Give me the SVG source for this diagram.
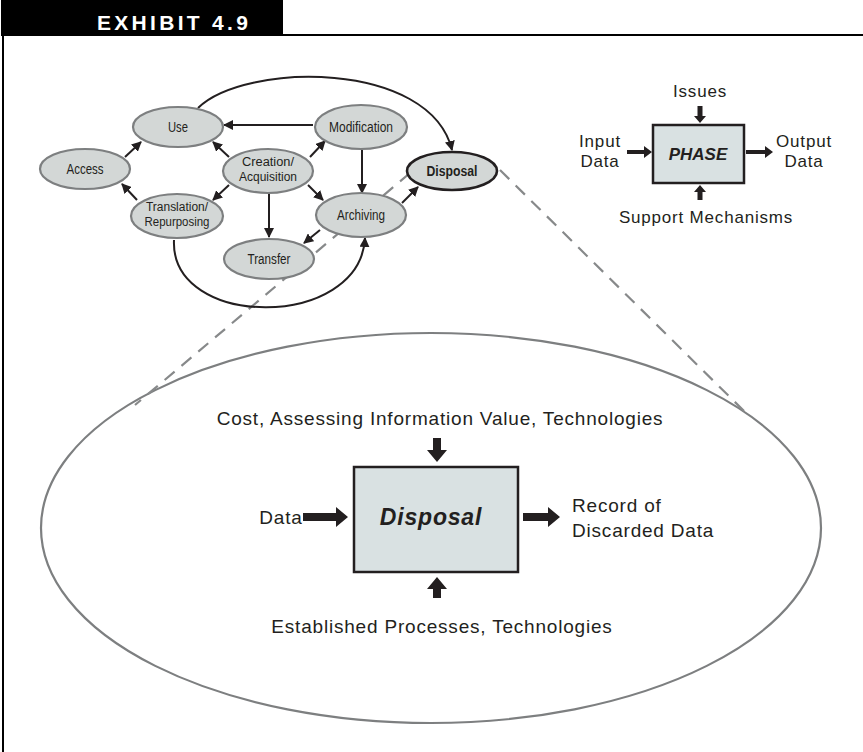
<svg xmlns="http://www.w3.org/2000/svg" width="863" height="752" viewBox="0 0 863 752">
<defs>
<marker id="ah" viewBox="0 0 10 10" refX="9" refY="5" markerWidth="10" markerHeight="10" markerUnits="userSpaceOnUse" orient="auto">
<path d="M0,0 L10,5 L0,10 Z" fill="#231f20"/>
</marker>
<style>
.node ellipse{fill:#d3d7d6;stroke:#7d7f80;stroke-width:2.2}
.nl{font-family:"Liberation Sans",sans-serif;font-size:14px;fill:#231f20;text-anchor:middle}
.nl2{font-size:12.5px}
.edge{fill:none;stroke:#231f20;stroke-width:2;marker-end:url(#ah)}
.dash{fill:none;stroke:#87898a;stroke-width:2.2;stroke-dasharray:13,9}
.lbl{font-family:"Liberation Sans",sans-serif;fill:#231f20}
.big{font-size:19px;letter-spacing:0.8px}
.leg{font-size:17px;letter-spacing:0.8px}
.box{fill:#d9e1e2;stroke:#231f20;stroke-width:2.5}
.fat{fill:#231f20}
</style>
</defs>
<rect width="863" height="752" fill="#ffffff"/>
<g id="frame">
<rect x="1" y="0" width="282" height="36" fill="#000000"/>
<text x="97" y="30" font-family="Liberation Sans,sans-serif" font-weight="bold" font-size="21" letter-spacing="3.3" fill="#ffffff">EXHIBIT 4.9</text>
<line x1="282" y1="35" x2="863" y2="35" stroke="#000" stroke-width="2"/>
<line x1="3" y1="35" x2="3" y2="752" stroke="#000" stroke-width="2"/>
</g>
<g id="zoom-ellipse">
<ellipse cx="431" cy="528" rx="390" ry="195" fill="none" stroke="#7d7f80" stroke-width="2.2"/>
<path class="dash" d="M410,173 L135,405"/>
<path class="dash" d="M500,170 L745,412"/>
</g>
<g id="connectors">
<path class="edge" d="M125,157 L141,142"/>
<path class="edge" d="M137,200 L122,184"/>
<path class="edge" d="M229,157 L213,142"/>
<path class="edge" d="M229,185 L213,200"/>
<path class="edge" d="M313,125 L224,125"/>
<path class="edge" d="M310,157 L325,141"/>
<path class="edge" d="M308,185 L323,200"/>
<path class="edge" d="M269,193 L269,237"/>
<path class="edge" d="M362,150 L362,193"/>
<path class="edge" d="M320,230 L304,243"/>
<path class="edge" d="M402,203 L418,187"/>
<path class="edge" d="M198,108 C245,62 430,60 452,150"/>
<path class="edge" d="M174,240 C170,330 360,330 365,238"/>
</g>
<g id="node-use" class="node"><ellipse cx="178" cy="127" rx="45" ry="20"/><text class="nl" x="178" y="132" textLength="20" lengthAdjust="spacingAndGlyphs">Use</text></g>
<g id="node-access" class="node"><ellipse cx="85" cy="169" rx="45" ry="20"/><text class="nl" x="85" y="174" textLength="37" lengthAdjust="spacingAndGlyphs">Access</text></g>
<g id="node-creation" class="node"><ellipse cx="268" cy="171" rx="45" ry="22"/><text class="nl nl2" x="268" y="166" textLength="52" lengthAdjust="spacingAndGlyphs">Creation/</text><text class="nl nl2" x="268" y="181" textLength="58" lengthAdjust="spacingAndGlyphs">Acquisition</text></g>
<g id="node-modification" class="node"><ellipse cx="361" cy="127" rx="46" ry="22"/><text class="nl" x="361" y="132" textLength="64" lengthAdjust="spacingAndGlyphs">Modification</text></g>
<g id="node-translation" class="node"><ellipse cx="177" cy="216" rx="46" ry="22"/><text class="nl nl2" x="177" y="211" textLength="62" lengthAdjust="spacingAndGlyphs">Translation/</text><text class="nl nl2" x="177" y="226" textLength="65" lengthAdjust="spacingAndGlyphs">Repurposing</text></g>
<g id="node-archiving" class="node"><ellipse cx="361" cy="215" rx="45" ry="22"/><text class="nl" x="361" y="220" textLength="48" lengthAdjust="spacingAndGlyphs">Archiving</text></g>
<g id="node-transfer" class="node"><ellipse cx="269" cy="259" rx="45" ry="20"/><text class="nl" x="269" y="264" textLength="43" lengthAdjust="spacingAndGlyphs">Transfer</text></g>
<g id="node-disposal" class="node"><ellipse cx="452" cy="171" rx="45" ry="19" style="stroke:#231f20;stroke-width:2.6"/><text class="nl" x="452" y="176" font-weight="bold" textLength="51" lengthAdjust="spacingAndGlyphs">Disposal</text></g>
<g id="legend">
<rect class="box" x="653" y="125" width="91" height="58"/>
<text class="lbl" x="698" y="160" font-size="17" font-weight="bold" font-style="italic" text-anchor="middle">PHASE</text>
<text class="lbl leg" x="700" y="97" text-anchor="middle">Issues</text>
<path class="fat" d="M697.5,106 H702.5 V116 H706 L700,123 L694,116 H697.5 Z"/>
<text class="lbl leg" x="600" y="147" text-anchor="middle">Input</text>
<text class="lbl leg" x="600" y="167" text-anchor="middle">Data</text>
<path class="fat" d="M627,150 H644 V146 L652,152 L644,158 V154 H627 Z"/>
<path class="fat" d="M746,150 H765 V146 L773,152 L765,158 V154 H746 Z"/>
<text class="lbl leg" x="804" y="147" text-anchor="middle">Output</text>
<text class="lbl leg" x="804" y="167" text-anchor="middle">Data</text>
<path class="fat" d="M697.5,200 H702.5 V192 H706 L700,185 L694,192 H697.5 Z"/>
<text class="lbl leg" x="706" y="223" text-anchor="middle">Support Mechanisms</text>
</g>
<g id="detail">
<rect class="box" x="354" y="467" width="164" height="105"/>
<text class="lbl" x="431" y="525" font-size="23" letter-spacing="0.8" font-weight="bold" font-style="italic" text-anchor="middle">Disposal</text>
<text class="lbl big" x="440" y="425" text-anchor="middle">Cost, Assessing Information Value, Technologies</text>
<path class="fat" d="M433,438 H441 V450 H447 L437,462 L427,450 H433 Z"/>
<text class="lbl big" x="281" y="524" text-anchor="middle">Data</text>
<path class="fat" d="M303,513 H336 V507 L348,517 L336,527 V521 H303 Z"/>
<path class="fat" d="M523,513 H548 V507 L560,517 L548,527 V521 H523 Z"/>
<text class="lbl big" x="572" y="512">Record of</text>
<text class="lbl big" x="572" y="537">Discarded Data</text>
<path class="fat" d="M433,598 H441 V589 H447 L437,577 L427,589 H433 Z"/>
<text class="lbl big" x="442" y="633" text-anchor="middle">Established Processes, Technologies</text>
</g>
</svg>
